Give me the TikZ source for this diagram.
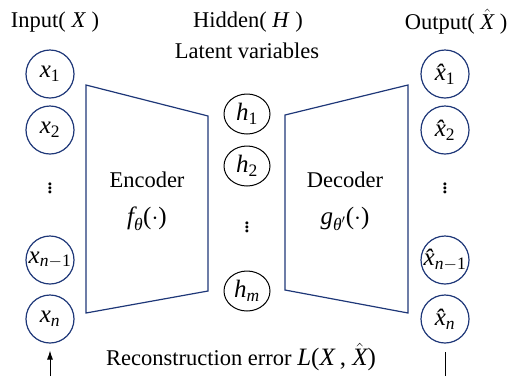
\documentclass[tikz,border=0pt]{standalone}
\usepackage{amsmath}
\usepackage{fontspec}
\setmainfont{Liberation Serif}
\usepackage{tikz}
\usetikzlibrary{shapes.geometric,arrows.meta}
\definecolor{netblue}{RGB}{30,55,120}
\newcommand{\mv}[1]{\text{\itshape #1}}
\newcommand{\ix}[1]{_{\text{#1}}}

\begin{document}
\begin{tikzpicture}[x=1pt, y=-1pt,
	unit/.style={circle, draw=netblue, line width=1.2pt, minimum size=48pt, inner sep=0pt, font=\fontsize{25}{28}\selectfont},
	hid/.style={ellipse, draw, line width=1pt, minimum width=46pt, minimum height=40pt, inner sep=0pt, font=\fontsize{25}{28}\selectfont},
	coder/.style={draw=netblue, line width=1.2pt, line join=miter},
	big/.style={font=\fontsize{25}{30}\selectfont},
	every node/.style={font=\fontsize{22.5}{26}\selectfont}]
	\useasboundingbox (0,0) rectangle (513,376);

	\node (tin)  at (55,22)  {Input( \textit{X} )};
	\node (thid) at (248,22) {Hidden( \textit{H} )};
	\node (tlat) at (247,51) {Latent variables};
	\node (tout) at (456,22) {Output( $\hat{\mv{X}}$ )};

	\node [unit] (x1) at (50,74)  {$\mv{x}\ix{1}$};
	\node [unit] (x2) at (50,130) {$\mv{x}\ix{2}$};
	\node [big] (xd) at (50,185) {$\vdots$};
	\node [unit] (xm) at (50,260) {$\mv{x}_{\mv{n}-\text{1}}$};
	\node [unit] (xn) at (50,319) {$\mv{x}_{\mv{n}}$};

	\node [hid] (h1) at (247,114) {$\mv{h}\ix{1}$};
	\node [hid] (h2) at (247,166) {$\mv{h}\ix{2}$};
	\node [big] (hd) at (247,224) {$\vdots$};
	\node [hid] (hm) at (247,291) {$\mv{h}_{\mv{m}}$};

	\node [unit] (y1) at (445,74)  {$\mv{\^x}\ix{1}$};
	\node [unit] (y2) at (445,130) {$\mv{\^x}\ix{2}$};
	\node [big] (yd) at (445,185) {$\vdots$};
	\node [unit] (ym) at (445,260) {$\mv{\^x}_{\mv{n}-\text{1}}$};
	\node [unit] (yn) at (445,319) {$\mv{\^x}_{\mv{n}}$};

	\draw [coder] (86,85) -- (208,116) -- (208,291) -- (86,313) -- cycle;
	\draw [coder] (285,115) -- (408,85) -- (408,313) -- (285,290) -- cycle;

	\node (enc)  at (147,180) {Encoder};
	\node [big] (fenc) at (147,219) {$\mv{f}_{\mv{θ}}\text{(}{\cdot}\text{)}$};
	\node (dec)  at (345,180) {Decoder};
	\node [big] (gdec) at (345,219) {$\mv{g}_{\mv{θ}^{\prime}}\text{(}{\cdot}\text{)}$};

	\node (err) at (241,357) {Reconstruction error {\fontsize{25}{28}\selectfont\textit{L}(\textit{X}\,, $\hat{\mv{X}}$)}};

	\coordinate (inb)  at (50,376);
	\coordinate (outb) at (445,376);
	\draw [-{Latex[length=9pt,width=6pt]}, line width=0.8pt, shorten >=7pt] (inb) -- (xn);
	\draw [line width=0.8pt, shorten >=8pt] (outb) -- (yn);
\end{tikzpicture}
\end{document}
